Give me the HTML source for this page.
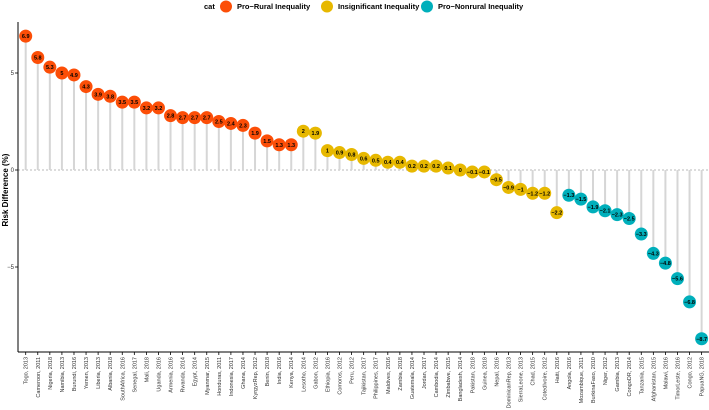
<!DOCTYPE html>
<html><head><meta charset="utf-8"><style>
html,body{margin:0;padding:0;background:#fff;}
svg{display:block;font-family:"Liberation Sans",sans-serif;}
</style></head><body>
<svg id="chart" width="709" height="410" viewBox="0 0 709 410">
<g id="legend" font-size="7.5" font-weight="bold" fill="#000">
  <text x="204" y="9">cat</text>
  <circle cx="226" cy="6.5" r="6" fill="#FC4E07"/>
  <text x="237" y="9">Pro−Rural Inequality</text>
  <circle cx="327" cy="6.5" r="6" fill="#E7B800"/>
  <text x="338" y="9">Insignificant Inequality</text>
  <circle cx="427" cy="6.5" r="6" fill="#00AFBB"/>
  <text x="438" y="9">Pro−Nonrural Inequality</text>
</g>
<text transform="translate(8,190) rotate(-90)" text-anchor="middle" font-size="8" font-weight="bold">Risk Difference (%)</text>
<g id="plot"></g>
</svg>
<script>
const countries=["Togo, 2013","Cameroon, 2011","Nigeria, 2018","Namibia, 2013","Burundi, 2016","Yemen, 2013","Liberia, 2013","Albania, 2018","SouthAfrica, 2016","Senegal, 2017","Mali, 2018","Uganda, 2016","Armenia, 2016","Rwanda, 2014","Egypt, 2014","Myanmar, 2015","Honduras, 2011","Indonesia, 2017","Ghana, 2014","KyrgyzRep, 2012","Benin, 2018","India, 2016","Kenya, 2014","Lesotho, 2014","Gabon, 2012","Ethiopia, 2016","Comoros, 2012","Peru, 2012","Tajikistan, 2017","Philippines, 2017","Maldives, 2016","Zambia, 2018","Guatemala, 2014","Jordan, 2017","Cambodia, 2014","Zimbabwe, 2015","Bangladesh, 2014","Pakistan, 2018","Guinea, 2018","Nepal, 2016","DominicanRep, 2013","SierraLeone, 2013","Chad, 2015","CotedIvoire, 2012","Haiti, 2016","Angola, 2016","Mozambique, 2011","BurkinaFaso, 2010","Niger, 2012","Gambia, 2013","CongoDR, 2014","Tanzania, 2015","Afghanistan, 2015","Malawi, 2016","TimorLeste, 2016","Congo, 2012","PapuaNG, 2018"];
const values=[6.9,5.8,5.3,5,4.9,4.3,3.9,3.8,3.5,3.5,3.2,3.2,2.8,2.7,2.7,2.7,2.5,2.4,2.3,1.9,1.5,1.3,1.3,2,1.9,1,0.9,0.8,0.6,0.5,0.4,0.4,0.2,0.2,0.2,0.1,0,-0.1,-0.1,-0.5,-0.9,-1,-1.2,-1.2,-2.2,-1.3,-1.5,-1.9,-2.1,-2.3,-2.5,-3.3,-4.3,-4.8,-5.6,-6.8,-8.7];
const cats=["R","R","R","R","R","R","R","R","R","R","R","R","R","R","R","R","R","R","R","R","R","R","R","I","I","I","I","I","I","I","I","I","I","I","I","I","I","I","I","I","I","I","I","I","I","N","N","N","N","N","N","N","N","N","N","N","N"];
const yTicks=[5,0,-5];
const colors={R:"#FC4E07",I:"#E7B800",N:"#00AFBB"};
const NS="http://www.w3.org/2000/svg";
const g=document.getElementById("plot");
const x0=25.7,step=12.07,axisX=18,axisBottom=352;
function xs(i){return x0+i*step;}
function ys(v){return 170-v*19.4;}
function mk(t,a){const e=document.createElementNS(NS,t);for(const k in a)e.setAttribute(k,a[k]);g.appendChild(e);return e;}
// zero line
let zl=mk("line",{x1:axisX,x2:709,y1:ys(0),y2:ys(0),stroke:"#c8c8c8","stroke-width":1.2,"stroke-dasharray":"2,2"});


// axes
let ya=mk("line",{x1:axisX,x2:axisX,y1:22,y2:axisBottom,stroke:"#000","stroke-width":1});


let xa=mk("line",{x1:axisX,x2:709,y1:axisBottom,y2:axisBottom,stroke:"#000","stroke-width":1});


yTicks.forEach(v=>{
  let t=mk("line",{x1:axisX-3,x2:axisX,y1:ys(v),y2:ys(v),stroke:"#000","stroke-width":0.8});
  
  
  let l=mk("text",{x:axisX-4,y:ys(v)+2,"text-anchor":"end","font-size":6,fill:"#333"});
  l.textContent=v<0?"−"+Math.abs(v):String(v);
  
  
});
values.forEach((v,i)=>{
  const x=xs(i);
  let s=mk("line",{x1:x,x2:x,y1:ys(0),y2:ys(v),stroke:"#d6d6d6","stroke-width":2});
  
  
  let t=mk("line",{x1:x,x2:x,y1:axisBottom,y2:axisBottom+3,stroke:"#000","stroke-width":0.8});
  
  
  let lab=mk("text",{transform:`translate(${x+2},${axisBottom+5}) rotate(-90)`,"text-anchor":"end","font-size":5.5,fill:"#333"});
  lab.textContent=countries[i];
  
  
});
values.forEach((v,i)=>{
  const x=xs(i),y=ys(v);
  let c=mk("circle",{cx:x,cy:y,r:6.5,fill:colors[cats[i]]});
  
  
  let t=mk("text",{x:x,y:y+2,"text-anchor":"middle","font-size":5.5,"font-weight":"bold",fill:"#000"});
  t.textContent=v<0?"−"+Math.abs(v):String(v);
  
  
});
</script>
</body></html>
